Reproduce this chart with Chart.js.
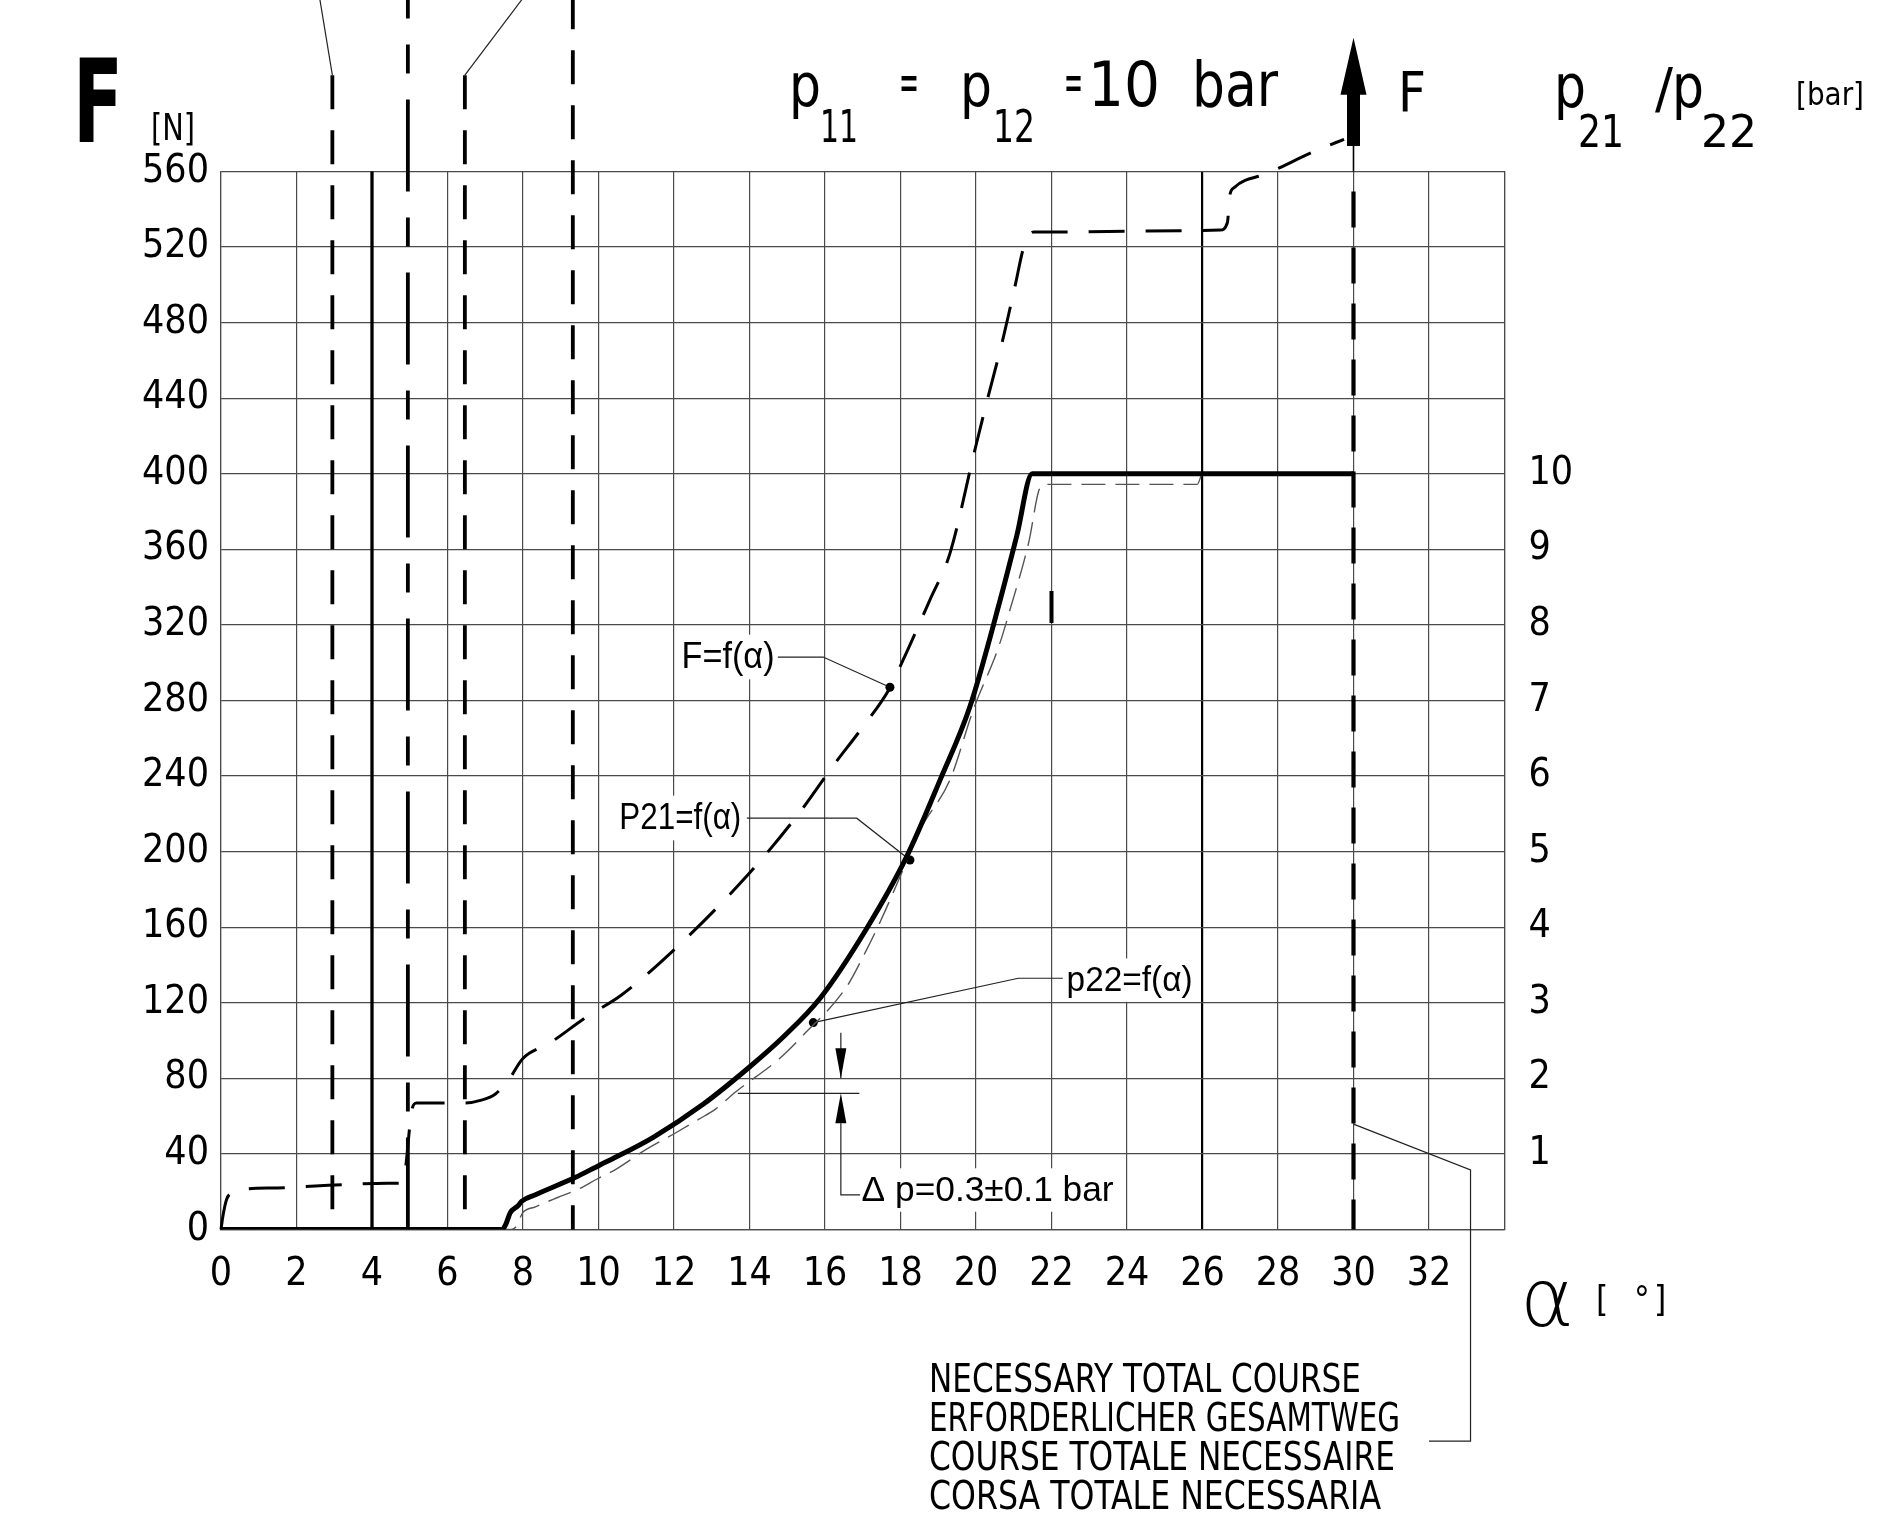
<!DOCTYPE html>
<html>
<head>
<meta charset="utf-8">
<script src="https://cdn.jsdelivr.net/npm/chart.js@4.4.1/dist/chart.umd.min.js"></script>
<style>
html,body{margin:0;padding:0;background:#fff;overflow:hidden}
#wrap{position:relative;width:1891px;height:1530px}
canvas{display:block}
</style>
</head>
<body>
<div id="wrap"><canvas id="c" width="1891" height="1530"></canvas></div>
<script>
// ---------------- DATA ----------------
// F = f(alpha) [N]
const alphaF = [0, 0.05, 0.15, 0.33, 0.51, 1.48, 2.5, 3.5, 4.4, 4.7, 4.84, 4.92, 4.99, 5.05, 5.18, 6.15, 6.46, 6.9, 7.26, 7.66, 7.99, 8.71, 9.68, 10.6, 12.0, 13.97, 15.3, 16.2, 17.0, 17.7, 18.07, 18.43, 18.78, 19.31, 19.96, 20.33, 20.7, 21.03, 21.28, 21.53, 22.5, 24.5, 26.47, 26.66, 26.72, 26.84, 27.72, 29.06, 29.75];
const forceF = [0, 7, 16, 19.8, 21.2, 22, 23, 24, 24.5, 24.5, 26.5, 38, 52.7, 63, 67, 67, 67, 68.5, 71.6, 80.4, 90.4, 98.7, 112.5, 124, 148, 188, 220, 245, 266, 286, 301.5, 317.4, 333.3, 357.9, 411.8, 441.5, 470.2, 499, 521, 528, 528, 528.5, 529, 533, 547, 551.5, 559, 571.5, 577];
// p21 = f(alpha) [bar]
const alphaP21 = [0, 7.45, 7.55, 7.66, 7.86, 7.97, 8.33, 9.39, 10.04, 10.35, 11.45, 12.78, 14.0, 14.9, 15.87, 17.1, 18.16, 19.05, 19.84, 20.64, 21.08, 21.49, 30];
const barP21 = [0, 0, 0.075, 0.22, 0.31, 0.375, 0.46, 0.69, 0.855, 0.93, 1.22, 1.66, 2.15, 2.55, 3.06, 3.98, 4.93, 5.95, 6.92, 8.33, 9.18, 10.0, 10.0];
// p22 = f(alpha) [bar]
const alphaP22 = [0, 7.7, 7.82, 7.99, 8.33, 8.9, 9.47, 9.95, 10.47, 11.2, 12.05, 12.66, 13.09, 13.63, 14.79, 15.38, 16.57, 17.1, 17.46, 17.99, 18.52, 19.31, 19.93, 20.6, 20.9, 21.4, 21.69, 21.85, 25.86, 25.98];
const barP22 = [0, 0, 0.04, 0.22, 0.3, 0.42, 0.535, 0.665, 0.8, 1.04, 1.28, 1.46, 1.59, 1.82, 2.26, 2.55, 3.21, 3.7, 4.07, 4.67, 5.29, 5.95, 6.88, 7.71, 8.2, 9.1, 9.81, 9.86, 9.86, 10.0];
// vertical marker lines (alpha [deg], from N to N)
const markerAlpha = [2.95, 4.0, 4.95, 6.46, 9.32, 30.0];
const markerTopN = [611, 560, 651, 611, 651, 560];
const markerBottomN = [9.4, 0, 0, 9, 0, 0];
// tick labels
const xTicks = [0, 2, 4, 6, 8, 10, 12, 14, 16, 18, 20, 22, 24, 26, 28, 30, 32];
const yTicksN = [0, 40, 80, 120, 160, 200, 240, 280, 320, 360, 400, 440, 480, 520, 560];
const yTicksBar = [1, 2, 3, 4, 5, 6, 7, 8, 9, 10];

// ---------------- STYLE ----------------
const NARROW = '"Liberation Sans Narrow","Arial Narrow","DejaVu Sans Condensed","Liberation Sans",sans-serif';
const SANS = '"Liberation Sans",Arial,"DejaVu Sans",sans-serif';
const GRID = '#4a4a4a';
const pts = (xs, ys) => xs.map((a, i) => ({x: a, y: ys[i]}));

const markerStyles = [
  {dash: [34, 21], off: 0, w: 3.8},
  {dash: [], off: 0, w: 3.3},
  {dash: [92, 26, 29, 26], off: 73, w: 3.8},
  {dash: [34, 21], off: 0, w: 3.8},
  {dash: [34, 21], off: 4.4, w: 3.8},
  {dash: [36, 20], off: 36, w: 4.2}
];

function thin(data, radii) {
  return {data, yAxisID: 'y', borderColor: '#222', borderWidth: 1.2, tension: 0,
    pointRadius: radii || 0, pointBackgroundColor: '#000', pointBorderWidth: 0, clip: false};
}

const datasets = [];
datasets.push({label: 'P21', data: pts(alphaP21, barP21), yAxisID: 'y2', borderColor: '#000', borderWidth: 5,
  cubicInterpolationMode: 'monotone', pointRadius: 0, borderJoinStyle: 'round'});
datasets.push({label: 'F', data: pts(alphaF, forceF), yAxisID: 'y', borderColor: '#000', borderWidth: 3,
  borderDash: [36, 21], cubicInterpolationMode: 'monotone', pointRadius: 0, clip: false, borderJoinStyle: 'round'});
datasets.push({label: 'p22', data: pts(alphaP22, barP22), yAxisID: 'y2', borderColor: '#555', borderWidth: 1.4,
  borderDash: [24, 10], cubicInterpolationMode: 'monotone', pointRadius: 0});
markerAlpha.forEach((a, i) => {
  const st = markerStyles[i];
  datasets.push({data: [{x: a, y: markerTopN[i]}, {x: a, y: markerBottomN[i]}], yAxisID: 'y',
    borderColor: '#000', borderWidth: st.w, borderDash: st.dash, borderDashOffset: st.off,
    pointRadius: 0, clip: false, tension: 0, borderCapStyle: 'butt'});
});
// small thick tick at alpha 22
datasets.push({data: [{x: 22, y: 321}, {x: 22, y: 338}], yAxisID: 'y', borderColor: '#000', borderWidth: 4, pointRadius: 0});
// leader lines
datasets.push(thin([{x: 2.62, y: 651}, {x: 2.95, y: 611}], [0, 4.5]));
datasets.push(thin([{x: 7.97, y: 651}, {x: 6.46, y: 611}], [0, 4.5]));
datasets.push(thin([{x: 14.75, y: 303}, {x: 15.95, y: 303}, {x: 17.72, y: 287}], [0, 0, 4.5]));
datasets.push(thin([{x: 13.93, y: 217.7}, {x: 16.84, y: 217.7}, {x: 18.25, y: 195.6}], [0, 0, 4.5]));
datasets.push(thin([{x: 22.3, y: 133}, {x: 21.12, y: 133}, {x: 15.69, y: 109.5}], [0, 0, 4.5]));
datasets.push(thin([{x: 30, y: 55.8}, {x: 33.1, y: 31.5}, {x: 33.1, y: -112}, {x: 32.0, y: -112}]));
// dimension lines for delta p
datasets.push(thin([{x: 16.42, y: 104.2}, {x: 16.42, y: 80}]));
datasets.push(thin([{x: 16.42, y: 56.2}, {x: 16.42, y: 18.3}, {x: 16.93, y: 18.3}]));
datasets.push(thin([{x: 13.69, y: 72.1}, {x: 16.91, y: 72.1}]));

// annotation labels (anchored in data coordinates), w = target width in px
const labelSpecs = [
  {t: 'F=f(α)', a: 12.2, n: 303, size: 36, w: 93},
  {t: 'P21=f(α)', a: 10.55, n: 217.8, size: 36, w: 122},
  {t: 'p22=f(α)', a: 22.4, n: 132, size: 35, w: 126},
  {t: 'Δ p=0.3±0.1 bar', a: 16.97, n: 20.9, size: 35, w: 252}
];

// draw text, optionally compressed horizontally to a target width
function txt(ctx, s, x, y, font, w, baseline) {
  ctx.save(); ctx.font = font; ctx.fillStyle = '#000';
  ctx.textAlign = 'left'; ctx.textBaseline = baseline || 'alphabetic';
  const m = ctx.measureText(s).width;
  const k = w ? w / m : 1;
  ctx.translate(x, y); ctx.scale(k, 1);
  ctx.fillText(s, 0, 0); ctx.restore();
}

const annot = {
  id: 'annot',
  beforeDatasetsDraw(chart) {
    const ctx = chart.ctx, xs = chart.scales.x, ys = chart.scales.y;
    labelSpecs.forEach(l => {
      const px = xs.getPixelForValue(l.a), py = ys.getPixelForValue(l.n);
      ctx.save();
      ctx.fillStyle = '#fff';
      ctx.fillRect(px - 5, py - l.size * 0.62, l.w + 10, l.size * 1.24);
      ctx.restore();
      txt(ctx, l.t, px, py + 1, l.size + 'px ' + SANS, l.w, 'middle');
    });
  },
  afterDatasetsDraw(chart) {
    const ctx = chart.ctx, xs = chart.scales.x, ys = chart.scales.y;
    ctx.save();
    ctx.fillStyle = '#000'; ctx.strokeStyle = '#000';
    // big arrow F at alpha = 30
    const px = xs.getPixelForValue(30);
    const tip = ys.getPixelForValue(630.8), base = ys.getPixelForValue(600.6), sb = ys.getPixelForValue(573.5);
    ctx.beginPath(); ctx.moveTo(px, tip); ctx.lineTo(px - 13, base); ctx.lineTo(px + 13, base); ctx.closePath(); ctx.fill();
    ctx.fillRect(px - 6.5, base - 1, 13, sb - base + 1);
    ctx.lineWidth = 1.6; ctx.beginPath(); ctx.moveTo(px, sb); ctx.lineTo(px, ys.getPixelForValue(560)); ctx.stroke();
    // dimension arrowheads
    const dx = xs.getPixelForValue(16.42);
    const t1 = ys.getPixelForValue(80), t2 = ys.getPixelForValue(72.1);
    ctx.beginPath(); ctx.moveTo(dx, t1); ctx.lineTo(dx - 5.5, t1 - 30); ctx.lineTo(dx + 5.5, t1 - 30); ctx.closePath(); ctx.fill();
    ctx.beginPath(); ctx.moveTo(dx, t2); ctx.lineTo(dx - 5.5, t2 + 30); ctx.lineTo(dx + 5.5, t2 + 30); ctx.closePath(); ctx.fill();
    ctx.restore();
  },
  afterDraw(chart) {
    const ctx = chart.ctx;
    // top-left axis title
    txt(ctx, 'F', 73, 142, 'bold 116px ' + NARROW, 50);
    txt(ctx, '[N]', 151, 140, '38px ' + NARROW, 44);
    // header
    txt(ctx, 'p', 789, 106, '60px ' + NARROW, 32);
    txt(ctx, '11', 820, 142, '44px ' + NARROW, 38);
    txt(ctx, '=', 899, 100, '54px ' + NARROW, 20);
    txt(ctx, 'p', 960, 106, '60px ' + NARROW, 32);
    txt(ctx, '12', 993, 142, '44px ' + NARROW, 42);
    txt(ctx, '=', 1064, 100, '54px ' + NARROW, 19);
    txt(ctx, '10', 1088, 106, '62px ' + NARROW, 72);
    txt(ctx, 'bar', 1192, 106, '62px ' + NARROW, 86);
    txt(ctx, 'F', 1398, 111, '56px ' + NARROW, 28);
    txt(ctx, 'p', 1554, 107, '60px ' + NARROW, 32);
    txt(ctx, '21', 1578, 147, '44px ' + NARROW, 46);
    txt(ctx, '/', 1655, 107, '56px ' + NARROW, 18);
    txt(ctx, 'p', 1672, 107, '60px ' + NARROW, 32);
    txt(ctx, '22', 1701, 147, '44px ' + NARROW, 56);
    txt(ctx, '[bar]', 1796, 105, '32px ' + NARROW, 68);
    // alpha axis title
    txt(ctx, 'α', 1520, 1326, '200 80px "DejaVu Sans",' + SANS, 54);
    txt(ctx, '[', 1596, 1311, '35px ' + NARROW);
    txt(ctx, '°', 1634, 1311, '35px ' + NARROW);
    txt(ctx, ']', 1654, 1311, '35px ' + NARROW);
    // bottom note
    const note = ['NECESSARY TOTAL COURSE', 'ERFORDERLICHER GESAMTWEG', 'COURSE TOTALE NECESSAIRE', 'CORSA TOTALE NECESSARIA'];
    const base = [1391.7, 1430.5, 1469.5, 1509];
    const widths = [432, 471, 466, 452];
    note.forEach((s, i) => txt(ctx, s, 929, base[i], '39px ' + NARROW, widths[i]));
  }
};

new Chart(document.getElementById('c'), {
  type: 'line',
  data: {datasets},
  options: {
    responsive: false, animation: false, devicePixelRatio: 1,
    layout: {padding: {left: 0, top: 171.5, right: 286.5, bottom: 220.5}},
    plugins: {legend: {display: false}, tooltip: {enabled: false}},
    elements: {line: {tension: 0}},
    scales: {
      x: {
        type: 'linear', min: 0, max: 34, position: 'bottom',
        afterFit(s) { s.height = 80; },
        ticks: {stepSize: 2, autoSkip: false, maxRotation: 0, minRotation: 0, padding: 22, color: '#000',
          font: {size: 39, family: NARROW}, callback: v => xTicks.includes(v) ? String(v) : ''},
        grid: {drawTicks: false,
          color: c => (c.tick && c.tick.value === 26) ? '#000' : GRID,
          lineWidth: c => (c.tick && c.tick.value === 26) ? 2.2 : 1.2},
        border: {display: true, color: GRID, width: 1.2}
      },
      y: {
        type: 'linear', min: 0, max: 560, position: 'left',
        afterFit(s) { s.width = 221; },
        ticks: {stepSize: 40, padding: 12, color: '#000', font: {size: 39, family: NARROW},
          callback: v => yTicksN.includes(v) ? String(v) : ''},
        grid: {drawTicks: false, color: GRID, lineWidth: 1.2},
        border: {display: true, color: GRID, width: 1.2}
      },
      y2: {
        type: 'linear', min: 0, max: 14, position: 'right',
        afterFit(s) { s.width = 100; },
        ticks: {stepSize: 1, padding: 24, color: '#000', font: {size: 39, family: NARROW},
          callback: v => yTicksBar.includes(v) ? String(v) : ''},
        grid: {display: false, drawTicks: false},
        border: {display: true, color: GRID, width: 1.2}
      }
    }
  },
  plugins: [annot]
});
</script>
</body>
</html>
